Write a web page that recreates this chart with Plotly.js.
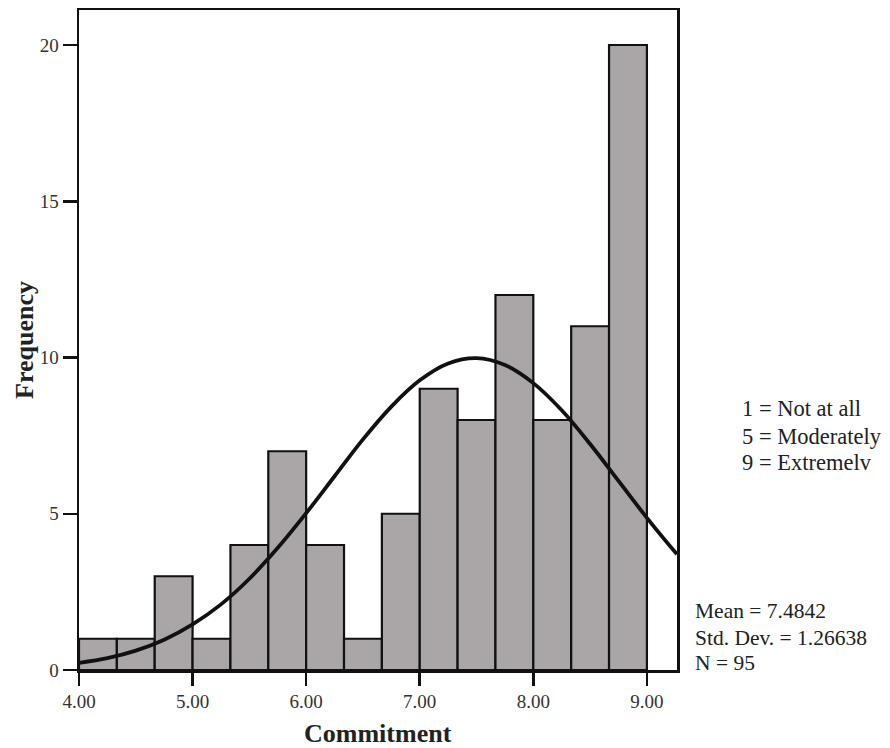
<!DOCTYPE html>
<html>
<head>
<meta charset="utf-8">
<script src="https://cdn.plot.ly/plotly-3.0.1.min.js"></script>
<style>
html,body{margin:0;padding:0;background:#fff;}
#chart{width:890px;height:748px;}
</style>
</head>
<body>
<div id="chart"></div>
<script>
// Histogram bins (lower edges) and counts, bin width 1/3
const binLower = [4.0, 4.3333, 4.6667, 5.0, 5.3333, 5.6667, 6.0, 6.3333, 6.6667, 7.0, 7.3333, 7.6667, 8.0, 8.3333, 8.6667];
const counts   = [1, 1, 3, 1, 4, 7, 4, 1, 5, 9, 8, 12, 8, 11, 20];
const binWidth = 1/3;

// Fitted normal curve
const curveX = [4.0, 4.25, 4.5, 4.75, 5.0, 5.25, 5.5, 5.75, 6.0, 6.25, 6.5, 6.75, 7.0, 7.25, 7.5, 7.75, 8.0, 8.25, 8.5, 8.75, 9.0, 9.25, 9.265];
const curveY = [0.23, 0.38, 0.62, 0.97, 1.46, 2.10, 2.92, 3.91, 5.02, 6.20, 7.38, 8.43, 9.27, 9.81, 9.98, 9.76, 9.18, 8.31, 7.23, 6.05, 4.87, 3.77, 3.71];

const xTickVals = [4, 5, 6, 7, 8, 9];
const xTickText = ['4.00', '5.00', '6.00', '7.00', '8.00', '9.00'];
const yTickVals = [0, 5, 10, 15, 20];

const legendLines = ['1 = Not at all', '5 = Moderately', '9 = Extremelv'];
const statLines = ['Mean = 7.4842', 'Std. Dev. = 1.26638', 'N = 95'];

const centers = binLower.map(v => v + binWidth / 2);
const serif = 'Liberation Serif, Times New Roman, serif';

const traces = [
  {
    type: 'bar',
    x: centers,
    y: counts,
    width: binWidth,
    marker: {color: '#aaa6a8', line: {color: '#111', width: 2.2}},
    hoverinfo: 'skip'
  },
  {
    type: 'scatter',
    mode: 'lines',
    x: curveX,
    y: curveY,
    line: {color: '#111', width: 3.8, shape: 'spline'},
    hoverinfo: 'skip'
  }
];

// pixel helpers for text placement relative to plot area (top 10, bottom 670, left 79, width 598)
const py = p => (670 - p) / 660;
const px = p => (p - 79) / 598;

const annotations = [
  {
    text: '<b>Frequency</b>', xref: 'paper', yref: 'paper', x: px(24), y: 0.5,
    xanchor: 'center', yanchor: 'middle', textangle: -90, showarrow: false,
    font: {family: serif, size: 26, color: '#222'}
  },
  {
    text: '<b>Commitment</b>', xref: 'paper', yref: 'paper', x: 0.5, y: py(733),
    xanchor: 'center', yanchor: 'middle', showarrow: false,
    font: {family: serif, size: 26, color: '#222'}
  }
];
const legendY = [408, 436, 463];
legendLines.forEach((t, i) => annotations.push({
  text: t, xref: 'paper', yref: 'paper', x: px(740), y: py(legendY[i]),
  xanchor: 'left', yanchor: 'middle', align: 'left', showarrow: false,
  font: {family: serif, size: 22.5, color: '#222'}
}));
const statY = [611, 638, 663];
statLines.forEach((t, i) => annotations.push({
  text: t, xref: 'paper', yref: 'paper', x: px(693), y: py(statY[i]),
  xanchor: 'left', yanchor: 'middle', align: 'left', showarrow: false,
  font: {family: serif, size: 21.5, color: '#222'}
}));

const layout = {
  width: 890,
  height: 748,
  margin: {l: 79, r: 213, t: 10, b: 78},
  paper_bgcolor: '#fff',
  plot_bgcolor: '#fff',
  showlegend: false,
  bargap: 0,
  font: {family: serif, color: '#222'},
  xaxis: {
    range: [4.0, 9.265],
    tickvals: xTickVals,
    ticktext: xTickText,
    ticks: 'outside',
    ticklen: 13,
    tickwidth: 2.5,
    tickcolor: '#111',
    showline: true,
    linecolor: '#111',
    linewidth: 2.5,
    mirror: true,
    showgrid: false,
    zeroline: false,
    tickfont: {family: serif, size: 19, color: '#333'}
  },
  yaxis: {
    range: [0, 21.12],
    tickvals: yTickVals,
    ticks: 'outside',
    ticklen: 14,
    tickwidth: 2.5,
    tickcolor: '#111',
    showline: true,
    linecolor: '#111',
    linewidth: 2.5,
    mirror: true,
    showgrid: false,
    zeroline: false,
    tickfont: {family: serif, size: 19, color: '#333'}
  },
  annotations: annotations
};

Plotly.newPlot('chart', traces, layout, {displayModeBar: false, staticPlot: true});
</script>
</body>
</html>
